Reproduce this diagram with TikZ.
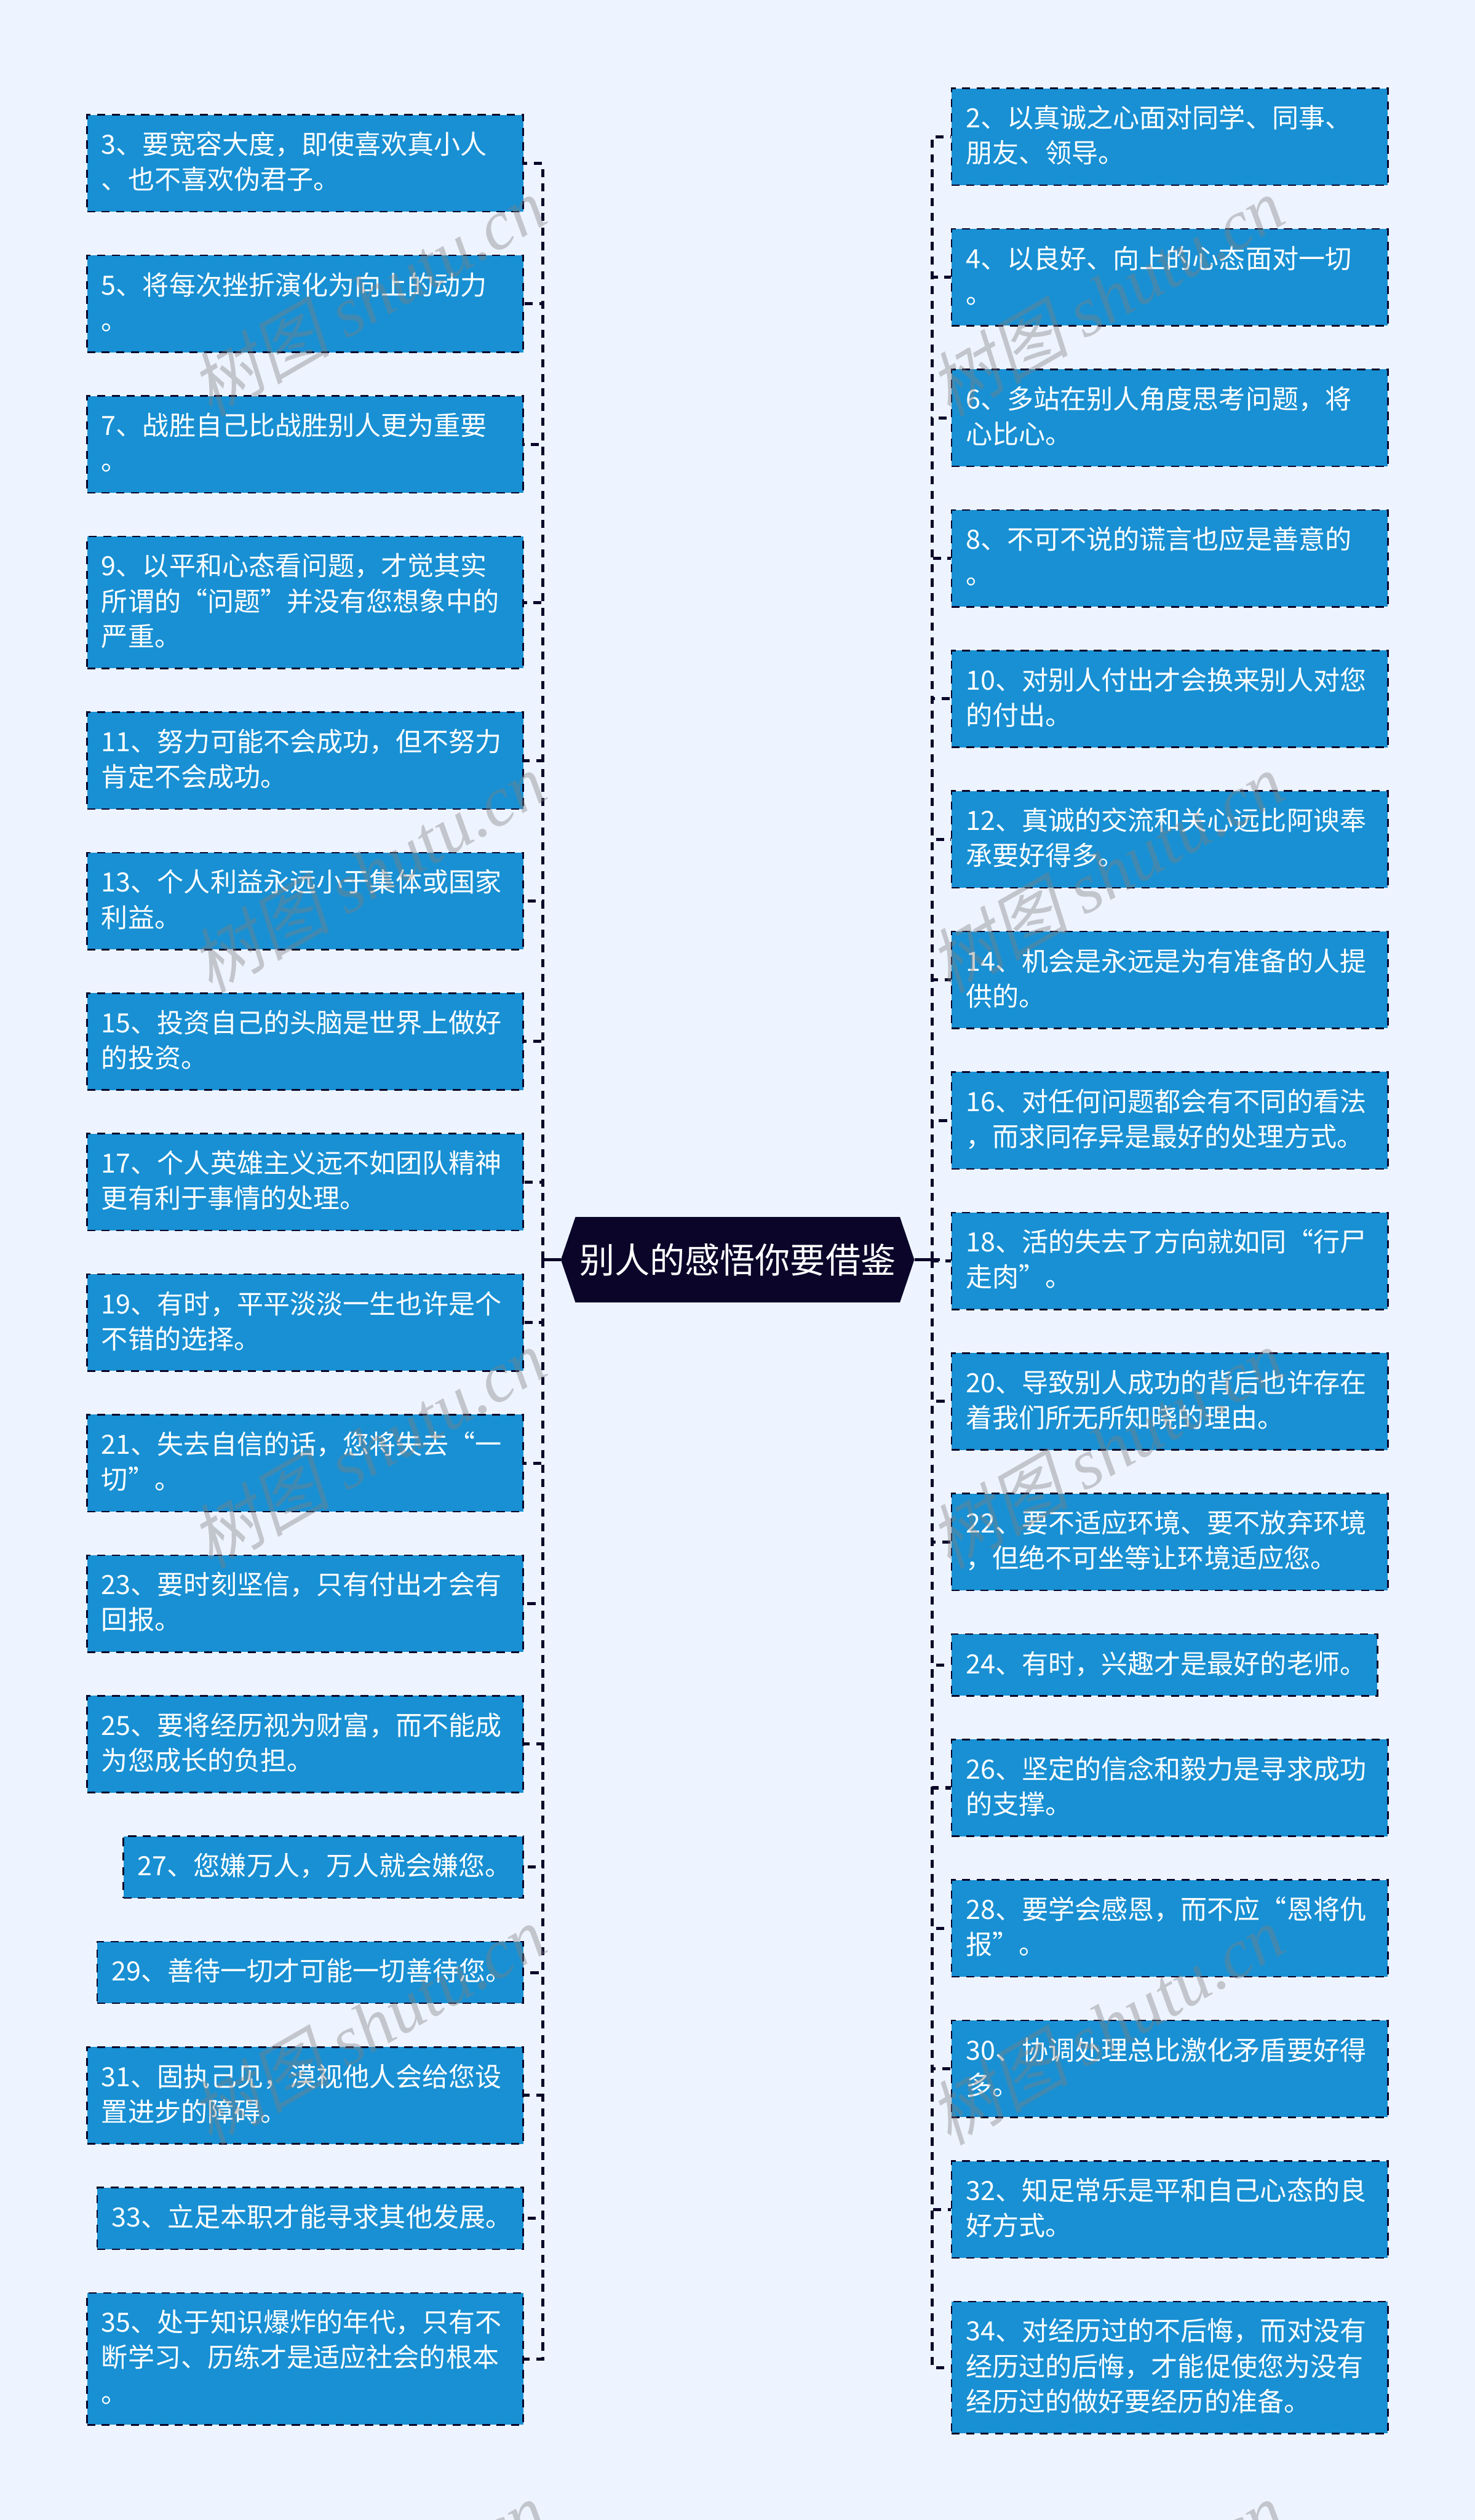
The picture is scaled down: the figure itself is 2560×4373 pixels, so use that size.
\documentclass[tikz,border=0pt]{standalone}
\usepackage{fontspec}
\setmainfont{Noto Sans CJK SC}
\newfontfamily\wmcjk[FakeSlant=0.22]{Noto Sans CJK SC}
\newfontfamily\wmlat{Liberation Serif}
\definecolor{pagebg}{HTML}{EEF4FF}
\definecolor{boxblue}{HTML}{1890D3}
\definecolor{inkdark}{HTML}{0A0529}
\newcommand\mystrut{\rule[-15.7pt]{0pt}{61pt}}
\newcommand\ls[1]{\mbox{\mystrut #1}}
\tikzset{
  x=1pt,y=-1pt,
  itembox/.style={rectangle,fill=boxblue,draw=inkdark,line width=2.8pt,dash pattern=on 14pt off 11.39pt,
    inner sep=0pt,text=white,align=left,font=\fontsize{46pt}{61pt}\selectfont},
  leftbox/.style={itembox,anchor=north east},
  rightbox/.style={itembox,anchor=north west},
  conn/.style={draw=inkdark,line width=5.4pt,dash pattern=on 14pt off 11.39pt},
  stem/.style={draw=inkdark,line width=5pt},
  hubtext/.style={rectangle,inner sep=0pt,minimum width=613.5pt,minimum height=148pt,text=white,font=\fontsize{61pt}{70pt}\selectfont},
  wmark/.style={rotate=30,text=gray,opacity=0.4,anchor=center,inner sep=0pt,font=\fontsize{122pt}{130pt}\selectfont},
}
% name, top, width, height, text
\newcommand\Lbox[5]{\node[leftbox,minimum width=#3pt,minimum height=#4pt,text width=\dimexpr#3pt-50pt\relax] (#1) at (909.5,#2) {#5};}
\newcommand\Rbox[5]{\node[rightbox,minimum width=#3pt,minimum height=#4pt,text width=\dimexpr#3pt-50pt\relax] (#1) at (1650,#2) {#5};}
\newcommand\wm[2]{\node[wmark] (wm#1) at #2 {{\wmcjk 树图} {\wmlat\itshape shutu.cn}};}
\begin{document}
\begin{tikzpicture}
\useasboundingbox (0,0) rectangle (2560,4373);
\fill[pagebg] (0,0) rectangle (2560,4373);

\Lbox{l3}{198}{757}{168}{\ls{3、要宽容大度，即使喜欢真小人}\\\ls{、也不喜欢伪君子。}}
\Lbox{l5}{441.84}{757}{168}{\ls{5、将每次挫折演化为向上的动力}\\\ls{。}}
\Lbox{l7}{685.68}{757}{168}{\ls{7、战胜自己比战胜别人更为重要}\\\ls{。}}
\Lbox{l9}{929.52}{757}{229}{\ls{9、以平和心态看问题，才觉其实}\\\ls{所谓的“问题”并没有您想象中的}\\\ls{严重。}}
\Lbox{l11}{1234.36}{757}{168}{\ls{11、努力可能不会成功，但不努力}\\\ls{肯定不会成功。}}
\Lbox{l13}{1478.2}{757}{168}{\ls{13、个人利益永远小于集体或国家}\\\ls{利益。}}
\Lbox{l15}{1722.04}{757}{168}{\ls{15、投资自己的头脑是世界上做好}\\\ls{的投资。}}
\Lbox{l17}{1965.88}{757}{168}{\ls{17、个人英雄主义远不如团队精神}\\\ls{更有利于事情的处理。}}
\Lbox{l19}{2209.72}{757}{168}{\ls{19、有时，平平淡淡一生也许是个}\\\ls{不错的选择。}}
\Lbox{l21}{2453.56}{757}{168}{\ls{21、失去自信的话，您将失去“一}\\\ls{切”。}}
\Lbox{l23}{2697.4}{757}{168}{\ls{23、要时刻坚信，只有付出才会有}\\\ls{回报。}}
\Lbox{l25}{2941.24}{757}{168}{\ls{25、要将经历视为财富，而不能成}\\\ls{为您成长的负担。}}
\Lbox{l27}{3185.08}{694}{107}{\ls{27、您嫌万人，万人就会嫌您。}}
\Lbox{l29}{3367.92}{739.5}{107}{\ls{29、善待一切才可能一切善待您。}}
\Lbox{l31}{3550.76}{757}{168}{\ls{31、固执己见，漠视他人会给您设}\\\ls{置进步的障碍。}}
\Lbox{l33}{3794.6}{739.5}{107}{\ls{33、立足本职才能寻求其他发展。}}
\Lbox{l35}{3977.44}{757}{229}{\ls{35、处于知识爆炸的年代，只有不}\\\ls{断学习、历练才是适应社会的根本}\\\ls{。}}

\Rbox{r2}{152}{757.5}{168}{\ls{2、以真诚之心面对同学、同事、}\\\ls{朋友、领导。}}
\Rbox{r4}{395.84}{757.5}{168}{\ls{4、以良好、向上的心态面对一切}\\\ls{。}}
\Rbox{r6}{639.68}{757.5}{168}{\ls{6、多站在别人角度思考问题，将}\\\ls{心比心。}}
\Rbox{r8}{883.52}{757.5}{168}{\ls{8、不可不说的谎言也应是善意的}\\\ls{。}}
\Rbox{r10}{1127.36}{757.5}{168}{\ls{10、对别人付出才会换来别人对您}\\\ls{的付出。}}
\Rbox{r12}{1371.2}{757.5}{168}{\ls{12、真诚的交流和关心远比阿谀奉}\\\ls{承要好得多。}}
\Rbox{r14}{1615.04}{757.5}{168}{\ls{14、机会是永远是为有准备的人提}\\\ls{供的。}}
\Rbox{r16}{1858.88}{757.5}{168}{\ls{16、对任何问题都会有不同的看法}\\\ls{，而求同存异是最好的处理方式。}}
\Rbox{r18}{2102.72}{757.5}{168}{\ls{18、活的失去了方向就如同“行尸}\\\ls{走肉”。}}
\Rbox{r20}{2346.56}{757.5}{168}{\ls{20、导致别人成功的背后也许存在}\\\ls{着我们所无所知晓的理由。}}
\Rbox{r22}{2590.4}{757.5}{168}{\ls{22、要不适应环境、要不放弃环境}\\\ls{，但绝不可坐等让环境适应您。}}
\Rbox{r24}{2834.24}{739.5}{107}{\ls{24、有时，兴趣才是最好的老师。}}
\Rbox{r26}{3017.08}{757.5}{168}{\ls{26、坚定的信念和毅力是寻求成功}\\\ls{的支撑。}}
\Rbox{r28}{3260.92}{757.5}{168}{\ls{28、要学会感恩，而不应“恩将仇}\\\ls{报”。}}
\Rbox{r30}{3504.76}{757.5}{168}{\ls{30、协调处理总比激化矛盾要好得}\\\ls{多。}}
\Rbox{r32}{3748.6}{757.5}{168}{\ls{32、知足常乐是平和自己心态的良}\\\ls{好方式。}}
\Rbox{r34}{3992.44}{757.5}{229}{\ls{34、对经历过的不后悔，而对没有}\\\ls{经历过的后悔，才能促使您为没有}\\\ls{经历过的做好要经历的准备。}}

% central hub
\fill[inkdark] (973.5,2186) -- (998.7,2112) -- (1562,2112) -- (1587,2186) -- (1562,2260) -- (998.7,2260) -- cycle;
\node[hubtext] (hub) at (1280.25,2186) {别人的感悟你要借鉴};

% trunks
\coordinate (tl) at (942,2186);
\coordinate (tr) at (1617.5,2186);
\coordinate (rs) at (1631,2186);
\draw[stem] (hub.west) -- (tl);
\draw[stem] (hub.east) -- (rs);

\foreach \b in {l3,l5,l7,l9,l11,l13,l15,l17,l19,l21,l23,l25,l27,l29,l31,l33,l35}
  \draw[conn] (tl) -- (tl |- \b.east) -- (\b.east);
\foreach \b in {r2,r4,r6,r8,r10,r12,r14,r16,r18,r20,r22,r24,r26,r28,r30,r32,r34}
  \draw[conn] (tr) -- (tr |- \b.west) -- (\b.west);

% watermarks
\begin{scope}
\clip (0,0) rectangle (2560,4373);
\wm{a}{(638,514)}
\wm{b}{(1920,514)}
\wm{c}{(638,1514)}
\wm{d}{(1920,1514)}
\wm{e}{(638,2514)}
\wm{f}{(1920,2514)}
\wm{g}{(638,3514)}
\wm{h}{(1920,3514)}
\wm{i}{(638,4514)}
\wm{j}{(1920,4514)}
\end{scope}
\end{tikzpicture}
\end{document}
